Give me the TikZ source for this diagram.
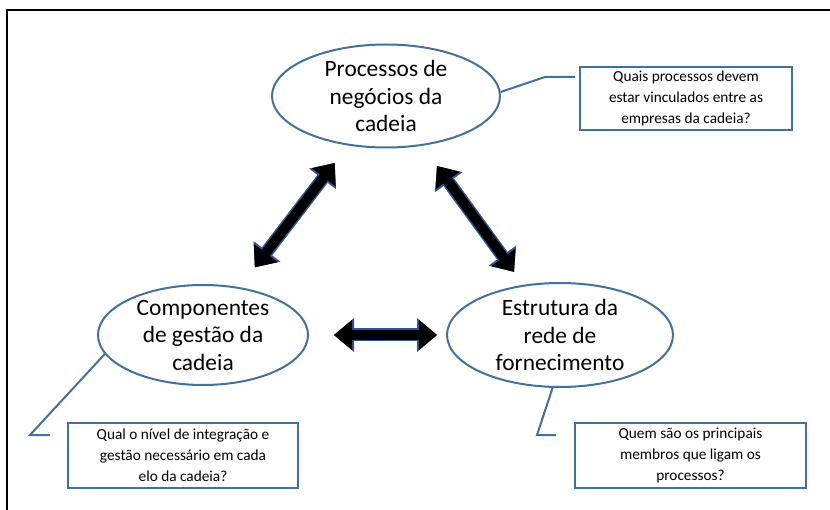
\documentclass[tikz,border=0pt]{standalone}
\usepackage{fontspec}
\setmainfont{Carlito}
\usepackage{tikz}
\usetikzlibrary{shapes.geometric,arrows.meta}
\definecolor{outline}{HTML}{41719C}
\definecolor{arrowedge}{HTML}{2F5597}

\begin{document}
\begin{tikzpicture}
    [ x = 1pt, y = -1pt
    , bubble/.style =
      { draw = outline, line width = 2pt, ellipse, inner xsep = 0pt, inner ysep = -5pt
      , align = center, font = \fontsize{23.4}{27.5}\selectfont }
    , question/.style =
      { draw = outline, line width = 2pt, inner sep = 0pt
      , align = center, font = \fontsize{15.3}{21}\selectfont }
    , pointer/.style =
      { draw = outline, line width = 2pt }
    , link/.style =
      { line width = 10pt
      , arrows = {Triangle[length=18pt,width=30pt,line width=0pt]-Triangle[length=18pt,width=30pt,line width=0pt]}
      , preaction =
        { draw = arrowedge, line width = 13pt
        , arrows = {Triangle[length=20pt,width=34pt,line width=0pt]-Triangle[length=20pt,width=34pt,line width=0pt]} }
      }
    ]
    \useasboundingbox (0,0) rectangle (830,510);
    \draw [line width=2pt] (7,510) -- (7,10) -- (830,10);

    \node [bubble, minimum width=228pt, minimum height=103pt] (proc) at (386,96) {Processos de\\negócios da\\cadeia};
    \node [bubble, minimum width=210pt, minimum height=100pt] (comp) at (203,335) {Componentes\\de gestão da\\cadeia};
    \node [bubble, minimum width=226pt, minimum height=104pt] (rede) at (560,335) {Estrutura da\\rede de\\fornecimento};

    \node [question, minimum width=212pt, minimum height=63pt] (qproc) at (686,98.5) {Quais processos devem\\estar vinculados entre as\\empresas da cadeia?};
    \node [question, minimum width=230pt, minimum height=65pt] (qcomp) at (183,455.5) {Qual o nível de integração e\\gestão necessário em cada\\elo da cadeia?};
    \node [question, minimum width=231pt, minimum height=65pt] (qrede) at (690.5,455.5) {Quem são os principais\\membros que ligam os\\processos?};

    \coordinate (kproc) at (545,77);
    \coordinate (eproc) at (575,77);
    \coordinate (kcomp) at (30,435);
    \coordinate (ecomp) at (50,435);
    \coordinate (krede) at (537,435);
    \coordinate (erede) at (556,435);

    \draw [pointer] (proc.2) -- (kproc) -- (eproc);
    \draw [pointer] (comp.191) -- (kcomp) -- (ecomp);
    \draw [pointer] (rede.262) -- (krede) -- (erede);

    \draw [link, shorten <=22pt, shorten >=25pt] (proc) -- (comp);
    \draw [link, shorten <=25pt, shorten >=16pt] (proc) -- (rede);
    \draw [link, shorten <=25pt, shorten >=9pt] (comp) -- (rede);
  \end{tikzpicture}
\end{document}
